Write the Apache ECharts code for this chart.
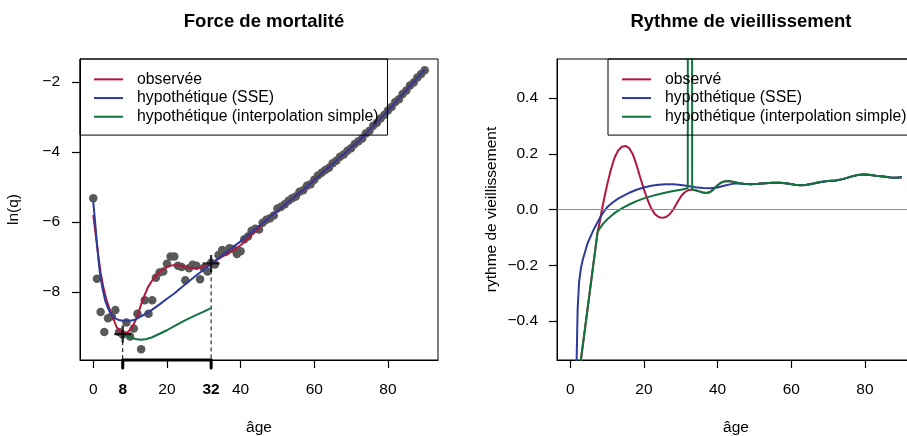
<!DOCTYPE html>
<html>
<head>
<meta charset="utf-8">
<script src="https://cdn.jsdelivr.net/npm/echarts@6/dist/echarts.min.js"></script>
<style>
html,body{margin:0;padding:0;background:#fff;}
#chart{width:907px;height:436px;}
</style>
</head>
<body>
<div id="chart"></div>
<script>
// ---------------- DATA ----------------
// Left panel: observed ln(q) by age (points)
const pointAges = Array.from({length: 91}, (_, i) => i);
const pointLnq = [
  -5.33, -7.63, -8.58, -9.15, -8.76, -8.70, -8.52, -9.15, -9.22, -8.88,
  -9.28, -9.05, -8.63, -9.64, -8.24, -8.63, -8.24, -7.60, -7.45, -7.42,
  -7.20, -6.99, -6.99, -7.26, -7.29, -7.67, -7.33, -7.23, -7.26, -7.64,
  -7.32, -7.42, -7.17, -7.22, -6.95, -6.81, -6.86, -6.76, -6.78, -6.92,
  -6.84, -6.50, -6.42, -6.26, -6.20, -6.22, -6.03, -5.94, -5.90, -5.82,
  -5.62, -5.57, -5.50, -5.40, -5.33, -5.28, -5.14, -5.10, -4.97, -4.93,
  -4.80, -4.68, -4.60, -4.52, -4.46, -4.33, -4.26, -4.14, -4.08, -3.97,
  -3.90, -3.78, -3.70, -3.62, -3.48, -3.40, -3.26, -3.17, -3.05, -2.95,
  -2.82, -2.72, -2.58, -2.50, -2.35, -2.25, -2.11, -2.02, -1.88, -1.78,
  -1.67
];

// shared smooth tail (ages 46-90) for observed and SSE fits
const fitTailAges = [46,47,48,49,50,51,52,53,54,55,56,57,58,59,60,61,62,63,64,65,66,67,68,69,70,71,72,73,74,75,76,77,78,79,80,81,82,83,84,85,86,87,88,89,90];
const fitTailLnq = [-6.04,-5.95,-5.86,-5.78,-5.69,-5.60,-5.52,-5.43,-5.35,-5.26,-5.17,-5.09,-5.00,-4.91,-4.81,-4.72,-4.63,-4.53,-4.44,-4.35,-4.26,-4.16,-4.07,-3.98,-3.88,-3.79,-3.70,-3.60,-3.49,-3.38,-3.27,-3.16,-3.05,-2.94,-2.83,-2.71,-2.59,-2.48,-2.36,-2.24,-2.12,-2.01,-1.89,-1.77,-1.66];

// observed smooth (red), ages 0-45
const obsAges = [0,1,1.4,2,2.7,3.5,4.5,5.5,6.3,7,7.9,8.7,9.5,10.4,11.3,12.2,13.1,14,14.9,16,17.2,18.3,19.4,20.5,21.7,23,24.4,25.8,27.1,28.3,29.4,30.5,31.6,32.5,33,34,35,36,37,38,39,40,41,42,43,44,45];
const obsLnq = [-5.81,-6.65,-7.00,-7.45,-7.86,-8.20,-8.52,-8.78,-9.00,-9.10,-9.17,-9.19,-9.14,-9.03,-8.86,-8.62,-8.33,-8.08,-7.86,-7.68,-7.52,-7.41,-7.33,-7.27,-7.24,-7.24,-7.27,-7.31,-7.33,-7.33,-7.30,-7.26,-7.21,-7.16,-7.13,-7.06,-7.00,-6.94,-6.88,-6.82,-6.75,-6.67,-6.58,-6.48,-6.38,-6.28,-6.17];

// hypothetical SSE (blue), ages 0-45
const sseAges = [0,0.5,0.9,1.4,1.8,2.5,3.2,4,5,6,7,8,9,10,11,12,13,14.5,16,18,20,22,24,26,28,30,32,33,34,35,36,37,38,39,40,41,42,43,44,45];
const sseLnq = [-5.43,-6.00,-6.52,-7.05,-7.47,-7.90,-8.24,-8.47,-8.67,-8.76,-8.81,-8.83,-8.83,-8.83,-8.81,-8.76,-8.70,-8.62,-8.51,-8.36,-8.20,-8.05,-7.87,-7.70,-7.53,-7.37,-7.20,-7.12,-7.04,-6.96,-6.88,-6.80,-6.72,-6.64,-6.56,-6.47,-6.38,-6.30,-6.21,-6.12];

// hypothetical simple interpolation (green), ages 8-32
const interpAges = [8,9,10,11.5,13,14.5,16,18,20,22,24,26,28,30,32];
const interpLnq = [-9.21,-9.26,-9.30,-9.35,-9.37,-9.35,-9.30,-9.20,-9.10,-8.98,-8.87,-8.76,-8.66,-8.57,-8.47];

// interval bounds (markers)
const markerAges = [8, 32];
const markerLnq = [-9.21, -7.19];

// Right panel: rate of ageing
const rateTailAges = [47,49,51,53,55,57,59,61,62.5,64,66,68,70,72,74,76,78,79.5,81,83,85,87,88.5,90];
const rateTailVals = [0.092,0.091,0.092,0.094,0.096,0.096,0.093,0.089,0.087,0.088,0.093,0.099,0.102,0.104,0.109,0.117,0.124,0.126,0.125,0.121,0.118,0.115,0.114,0.116];

const rateObsAges = [0,1,2,7.4,8,8.6,9.3,10,11,12,13,14,15,16,17,18,19,20,21,22,23,24,25,26,27,28,29,30,31,32,33,34,35,36,37,38,39,40,41,42,43,44,45,46];
const rateObsVals = [-1.9,-1.2,-0.63,-0.082,-0.045,0.0,0.045,0.088,0.142,0.185,0.212,0.225,0.228,0.220,0.198,0.160,0.115,0.072,0.035,0.003,-0.017,-0.027,-0.030,-0.027,-0.017,0.0,0.024,0.046,0.061,0.069,0.072,0.069,0.065,0.061,0.059,0.063,0.074,0.087,0.097,0.101,0.102,0.100,0.097,0.094];

const rateSseAges = [0,1,1.5,1.73,2.0,2.4,2.9,3.4,4.7,6.5,8.3,9,10,11.5,13,14.5,16,18,20,22,24,26,28,30,32,34,36,38,40,42,44,46];
const rateSseVals = [-4,-1.6,-0.85,-0.54,-0.36,-0.26,-0.21,-0.18,-0.121,-0.068,-0.024,-0.01,0.008,0.025,0.039,0.05,0.06,0.071,0.079,0.085,0.089,0.091,0.091,0.088,0.084,0.080,0.077,0.076,0.079,0.086,0.092,0.094];

const rateInterpAges = [0,1,2,7.4,8,9,10,11,12,13,14.5,16,18,20,22,24,26,28,30,31.9,32,33,33.1,34,35,36,37,38,39,40,41,42,43,44,45,46];
const rateInterpVals = [-1.9,-1.2,-0.63,-0.082,-0.068,-0.050,-0.036,-0.024,-0.013,-0.004,0.008,0.018,0.030,0.040,0.048,0.055,0.061,0.066,0.071,0.076,3,3,0.072,0.069,0.065,0.061,0.059,0.063,0.074,0.087,0.097,0.101,0.102,0.100,0.097,0.094];

const leftXTicks = [0, 8, 20, 32, 40, 60, 80];
const boldXTicks = [8, 32];
const rightXTicks = [0, 20, 40, 60, 80];
const leftYTicks = [-8, -6, -4, -2];
const rightYTicks = [-0.4, -0.2, 0, 0.2, 0.4];

const names = {
  obsL: 'observée', obsR: 'observé',
  sse: 'hypothétique (SSE)', interp: 'hypothétique (interpolation simple)'
};
const titles = ['Force de mortalité', 'Rythme de vieillissement'];

// ---------------- STYLE ----------------
const RED = '#B0173A', BLUE = '#2C3C98', GREEN = '#0F7440', GREY = '#595959';
const FONT = "'Liberation Sans', Arial, Helvetica, sans-serif";
const FS = 15.5;
const LFS = 15.8;
const TICK = 8;
const X_MIN = -3.6, X_MAX = 93.6;
const L_YMIN = -9.95, L_YMAX = -1.35;
const R_YMIN = -0.54, R_YMAX = 0.54;

const zip = (a, b) => a.map((v, i) => [v, b[i]]);
const minus = s => String(s).replace('-', '\u2212');

const chart = echarts.init(document.getElementById('chart'));

const axisLineStyle = {show: true, onZero: false, lineStyle: {color: '#000', width: 1}};
const tickStyle = ticks => ({show: true, length: TICK, customValues: ticks, lineStyle: {color: '#000', width: 1.2}});

const baseX = (ticks, labelFmt) => ({
  type: 'value', min: X_MIN, max: X_MAX,
  axisLine: axisLineStyle,
  splitLine: {show: false},
  axisTick: tickStyle(ticks),
  axisLabel: {customValues: ticks, margin: 22, color: '#000', fontSize: FS, fontFamily: FONT, formatter: labelFmt,
    rich: {b: {fontWeight: 'bold', fontSize: FS, fontFamily: FONT, color: '#000'}}},
  name: 'âge', nameLocation: 'middle', nameGap: 60,
  nameTextStyle: {color: '#000', fontSize: FS, fontFamily: FONT}
});

const lineS = (name, data, color, xi) => ({
  name, type: 'line', data, xAxisIndex: xi, yAxisIndex: xi,
  showSymbol: false, symbol: 'none', smooth: false,
  lineStyle: {color, width: 2}, itemStyle: {color},
  emphasis: {disabled: true}, clip: true
});

const legendBase = {
  top: 59, orient: 'vertical', itemGap: 0, itemWidth: 29, itemHeight: 2, icon: 'rect',
  padding: [11, 9, 9, 14], borderColor: '#000', borderWidth: 1,
  selectedMode: false,
  textStyle: {fontSize: LFS, fontFamily: FONT, color: '#000', lineHeight: 18.7, padding: [0, 0, 0, 9]}
};

const gridBase = {top: 59, width: 358, height: 301, show: true, borderColor: '#000', borderWidth: 1,
  containLabel: false, outerBoundsMode: 'none'};

const option = {
  animation: false,
  title: [
    {text: titles[0], left: 259, top: 7, textAlign: 'center',
     textStyle: {fontSize: 18.5, fontWeight: 'bold', fontFamily: FONT, color: '#000'}},
    {text: titles[1], left: 736, top: 7, textAlign: 'center',
     textStyle: {fontSize: 18.5, fontWeight: 'bold', fontFamily: FONT, color: '#000'}}
  ],
  legend: [
    Object.assign({}, legendBase, {left: 80, data: [names.obsL, names.sse, names.interp]}),
    Object.assign({}, legendBase, {left: 608, data: [names.obsR, names.sse, names.interp]})
  ],
  grid: [
    Object.assign({}, gridBase, {left: 80}),
    Object.assign({}, gridBase, {left: 557})
  ],
  xAxis: [
    Object.assign(baseX(leftXTicks, v => boldXTicks.includes(v) ? '{b|' + v + '}' : String(v)), {gridIndex: 0}),
    Object.assign(baseX(rightXTicks, v => String(v)), {gridIndex: 1})
  ],
  yAxis: [
    {type: 'value', gridIndex: 0, min: L_YMIN, max: L_YMAX,
     axisLine: axisLineStyle, splitLine: {show: false}, axisTick: tickStyle(leftYTicks),
     axisLabel: {customValues: leftYTicks, margin: 20, color: '#000', fontSize: FS, fontFamily: FONT, formatter: v => minus(v)},
     name: 'ln(q)', nameLocation: 'middle', nameGap: 58, nameRotate: 90,
     nameTextStyle: {color: '#000', fontSize: FS, fontFamily: FONT}},
    {type: 'value', gridIndex: 1, min: R_YMIN, max: R_YMAX,
     axisLine: axisLineStyle, splitLine: {show: false}, axisTick: tickStyle(rightYTicks),
     axisLabel: {customValues: rightYTicks, margin: 19, color: '#000', fontSize: FS, fontFamily: FONT, formatter: v => minus(Number(v).toFixed(1))},
     name: 'rythme de vieillissement', nameLocation: 'middle', nameGap: 57, nameRotate: 90,
     nameTextStyle: {color: '#000', fontSize: FS, fontFamily: FONT}}
  ],
  series: [
    // ----- left panel -----
    {name: 'points', type: 'scatter', xAxisIndex: 0, yAxisIndex: 0, data: zip(pointAges, pointLnq),
     symbol: 'circle', symbolSize: 8.5, itemStyle: {color: GREY, opacity: 1}},
    lineS(names.obsL, zip(obsAges, obsLnq).concat(zip(fitTailAges, fitTailLnq)), RED, 0),
    lineS(names.sse, zip(sseAges, sseLnq).concat(zip(fitTailAges, fitTailLnq)), BLUE, 0),
    lineS(names.interp, zip(interpAges, interpLnq), GREEN, 0),
    {name: 'drops', type: 'custom', xAxisIndex: 0, yAxisIndex: 0, data: zip(markerAges, markerLnq),
     encode: {x: 0, y: 1}, clip: false,
     renderItem: (params, api) => {
       const top = api.coord([api.value(0), api.value(1)]);
       const bot = api.coord([api.value(0), L_YMIN]);
       return {type: 'line', shape: {x1: top[0], y1: top[1], x2: bot[0], y2: bot[1]},
         style: {stroke: '#000', lineWidth: 1, lineDash: [4, 3]}};
     }},
    {name: 'bracket', type: 'custom', xAxisIndex: 0, yAxisIndex: 0, data: zip(markerAges, [L_YMIN, L_YMIN]),
     encode: {x: 0, y: 1}, clip: false,
     renderItem: (params, api) => {
       const p = api.coord([api.value(0), api.value(1)]);
       const q = api.coord([markerAges[markerAges.length - 1], api.value(1)]);
       const st = {stroke: '#000', lineWidth: 3, lineCap: 'round'};
       const children = [{type: 'line', shape: {x1: p[0], y1: p[1], x2: p[0], y2: p[1] + TICK}, style: st}];
       if (params.dataIndex === 0) {
         children.push({type: 'line', shape: {x1: p[0], y1: p[1], x2: q[0], y2: q[1]}, style: st});
       }
       return {type: 'group', children};
     }},
    {name: 'markers', type: 'scatter', xAxisIndex: 0, yAxisIndex: 0, data: zip(markerAges, markerLnq),
     symbol: 'path://M0.43,0 H0.57 V0.43 H1 V0.57 H0.57 V1 H0.43 V0.57 H0 V0.43 H0.43 Z',
     symbolSize: 17, symbolKeepAspect: true, itemStyle: {color: '#000'}, z: 5},
    // ----- right panel -----
    lineS(names.obsR, zip(rateObsAges, rateObsVals).concat(zip(rateTailAges, rateTailVals)), RED, 1),
    Object.assign(lineS(names.sse, zip(rateSseAges, rateSseVals).concat(zip(rateTailAges, rateTailVals)), BLUE, 1), {
      markLine: {silent: true, symbol: 'none', label: {show: false},
        lineStyle: {color: '#8c8c8c', width: 1.2, type: 'solid'},
        data: [{yAxis: 0}]}
    }),
    lineS(names.interp, zip(rateInterpAges, rateInterpVals).concat(zip(rateTailAges, rateTailVals)), GREEN, 1)
  ]
};
chart.setOption(option);
</script>
</body>
</html>
